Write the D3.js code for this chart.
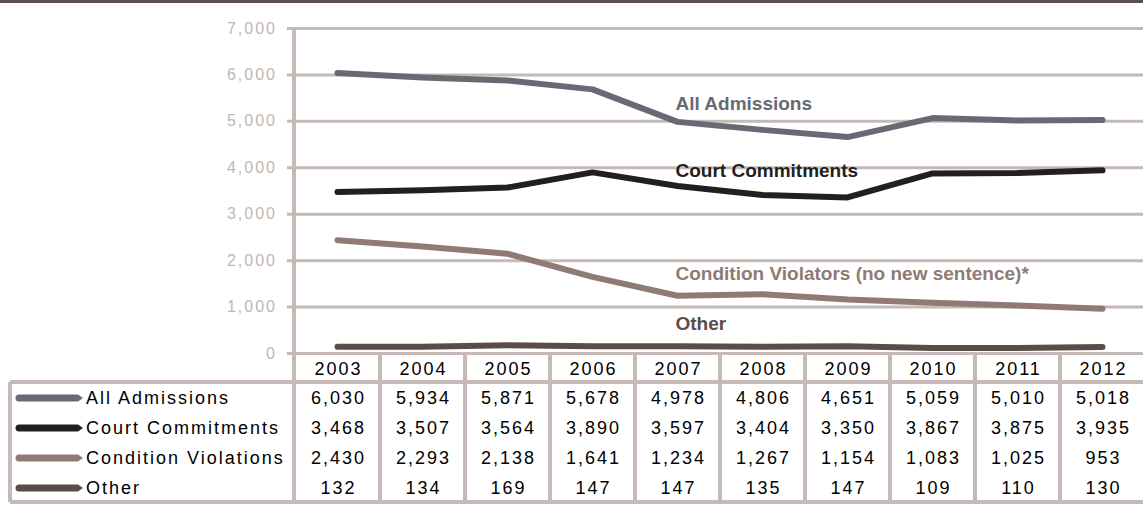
<!DOCTYPE html>
<html>
<head>
<meta charset="utf-8">
<script src="https://cdn.jsdelivr.net/npm/d3@7"></script>
<style>
  body { margin: 0; background: #fff; }
  svg { display: block; }
</style>
</head>
<body>
<div id="chart"></div>
<script>
const years = [2003, 2004, 2005, 2006, 2007, 2008, 2009, 2010, 2011, 2012];
const allAdmissions = [6030, 5934, 5871, 5678, 4978, 4806, 4651, 5059, 5010, 5018];
const courtCommitments = [3468, 3507, 3564, 3890, 3597, 3404, 3350, 3867, 3875, 3935];
const conditionViolations = [2430, 2293, 2138, 1641, 1234, 1267, 1154, 1083, 1025, 953];
const other = [132, 134, 169, 147, 147, 135, 147, 109, 110, 130];
const yTicks = [0, 1000, 2000, 3000, 4000, 5000, 6000, 7000];

const series = [
    { name: "All Admissions", values: allAdmissions, color: "#676a73" },
    { name: "Court Commitments", values: courtCommitments, color: "#231f20" },
    { name: "Condition Violations", values: conditionViolations, color: "#8f7a74" },
    { name: "Other", values: other, color: "#5b4c49" }
];

// in-chart labels (anchored at a year, at a value on the y scale)
const lineLabels = [
    { text: "All Admissions", year: 2007, value: 5230, color: "#676a73" },
    { text: "Court Commitments", year: 2007, value: 3790, color: "#231f20" },
    { text: "Condition Violators (no new sentence)*", year: 2007, value: 1572, color: "#8f7a74" },
    { text: "Other", year: 2007, value: 495, color: "#5b4c49" }
];

const W = 1143, H = 505;
const gridColor = "#c6bab7";
const plotLeft = 295, plotTop = 28, plotBottom = 353;
const colW = 85;
const tableTop = 382, rowH = 30, tableLeft = 10;
const tableBottom = tableTop + rowH * series.length;

const svg = d3.select("#chart").append("svg")
    .attr("width", W)
    .attr("height", H);

// top bar
svg.append("rect").attr("x", 0).attr("y", 0).attr("width", W).attr("height", 3).attr("fill", "#5c4f4c");

const x = d3.scaleBand().domain(years).range([plotLeft, plotLeft + colW * years.length]);
const y = d3.scaleLinear().domain([0, 7000]).range([plotBottom, plotTop]);
const cx = d => x(d) + x.bandwidth() / 2;

// y axis with gridlines
const yAxis = svg.append("g")
    .attr("transform", "translate(287,0)")
    .call(d3.axisLeft(y).tickValues(yTicks).tickFormat(d3.format(",")).tickSizeInner(-(W - 287)).tickSizeOuter(0).tickPadding(10));
yAxis.select(".domain").remove();
yAxis.selectAll(".tick line").attr("stroke", gridColor).attr("stroke-width", 3);
yAxis.selectAll(".tick text")
    .attr("fill", "#c2b6b3")
    .style("font-family", "Arial, 'Liberation Sans', sans-serif")
    .style("font-size", "16px")
    .style("letter-spacing", "2px");

// table grid
const grid = svg.append("g").attr("stroke", gridColor).attr("stroke-width", 4);
grid.append("line").attr("x1", tableLeft).attr("x2", W).attr("y1", tableTop).attr("y2", tableTop);
grid.append("line").attr("x1", tableLeft).attr("x2", W).attr("y1", tableBottom).attr("y2", tableBottom);
grid.append("line").attr("x1", tableLeft).attr("x2", tableLeft).attr("y1", tableTop).attr("y2", tableBottom);
grid.append("line").attr("x1", plotLeft - 1).attr("x2", plotLeft - 1).attr("y1", plotTop).attr("y2", tableBottom);
grid.selectAll(".col")
    .data(years.slice(1))
    .enter().append("line")
    .attr("x1", d => x(d)).attr("x2", d => x(d))
    .attr("y1", plotBottom).attr("y2", tableBottom);

// lines
const line = d3.line()
    .x((d, i) => cx(years[i]))
    .y(d => y(d));

svg.selectAll(".series")
    .data(series)
    .enter().append("path")
    .attr("fill", "none")
    .attr("stroke", d => d.color)
    .attr("stroke-width", 6)
    .attr("stroke-linecap", "round")
    .attr("stroke-linejoin", "round")
    .attr("d", d => line(d.values));

// in-chart labels
svg.selectAll(".lbl")
    .data(lineLabels)
    .enter().append("text")
    .attr("x", d => cx(d.year) - 2)
    .attr("y", d => y(d.value))
    .attr("fill", d => d.color)
    .style("font-family", "Arial, 'Liberation Sans', sans-serif")
    .style("font-weight", "bold")
    .style("font-size", "19px")
    .text(d => d.text);

const tableFont = g => g
    .style("font-family", "Arial, 'Liberation Sans', sans-serif")
    .style("font-size", "18px")
    .style("letter-spacing", "2px")
    .attr("fill", "#000");

// year header
svg.selectAll(".year")
    .data(years)
    .enter().append("text")
    .attr("x", d => cx(d) + 1)
    .attr("y", (plotBottom + tableTop) / 2 + 1)
    .attr("dy", "0.35em")
    .attr("text-anchor", "middle")
    .call(tableFont)
    .text(d => d);

// table rows
const rows = svg.selectAll(".row")
    .data(series)
    .enter().append("g")
    .attr("transform", (d, i) => `translate(0,${tableTop + rowH * i + rowH / 2 + 1})`);

rows.append("path")
    .attr("fill", d => d.color)
    .attr("d", "M19,-3.5 L78,-3.5 L83,0 L78,3.5 L19,3.5 A3.5,3.5 0 0 1 19,-3.5 Z");

rows.append("text")
    .attr("x", 86)
    .attr("dy", "0.35em")
    .call(tableFont)
    .text(d => d.name);

rows.selectAll(".val")
    .data(d => d.values)
    .enter().append("text")
    .attr("x", (d, i) => cx(years[i]) + 1)
    .attr("dy", "0.35em")
    .attr("text-anchor", "middle")
    .call(tableFont)
    .text(d => d3.format(",")(d));
</script>
</body>
</html>
